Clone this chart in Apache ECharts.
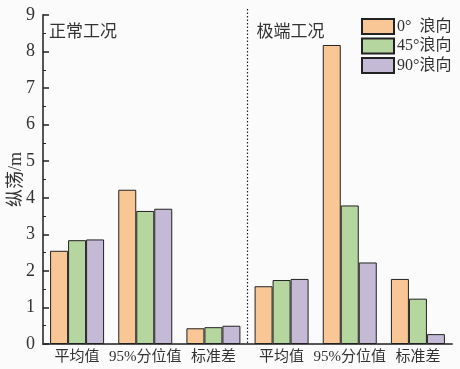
<!DOCTYPE html>
<html>
<head>
<meta charset="utf-8">
<script src="https://cdn.jsdelivr.net/npm/echarts@6/dist/echarts.min.js"></script>
<style>
  html, body { margin: 0; padding: 0; background: #fbfbfb; }
  #chart { width: 460px; height: 369px; }
</style>
</head>
<body>
<div id="chart"></div>
<script>
// Categories: first three under normal conditions, last three under extreme conditions
const categories = ['平均值', '95%分位值', '标准差', '平均值', '95%分位值', '标准差'];
const seriesNames = ['0°  浪向', '45°浪向', '90°浪向'];
const surge0 = [2.55, 4.22, 0.43, 1.58, 8.18, 1.78];
const surge45 = [2.84, 3.64, 0.46, 1.75, 3.79, 1.24];
const surge90 = [2.86, 3.70, 0.50, 1.78, 2.23, 0.27];
const yTicks = [0, 1, 2, 3, 4, 5, 6, 7, 8, 9];
const groupTitles = ['正常工况', '极端工况'];

const colors = ['#f8c795', '#b6d6a0', '#c5bad6'];
const FONT = '"Liberation Serif", "Noto Sans CJK SC", serif';

const chart = echarts.init(document.getElementById('chart'), null, { renderer: 'canvas' });

const mkSeries = (name, data, i) => ({
  name: name,
  type: 'bar',
  data: data,
  barWidth: 18,
  barGap: '0%',
  itemStyle: { color: colors[i], borderColor: '#222', borderWidth: 1 }
});

chart.setOption({
  backgroundColor: '#fbfbfb',
  animation: false,
  grid: { left: 43, right: 8, top: 15, bottom: 25, outerBoundsMode: 'none', containLabel: false },
  legend: {
    orient: 'vertical',
    left: 361,
    top: 18,
    padding: 0,
    itemWidth: 32,
    itemHeight: 15,
    itemGap: 2.5,
    icon: 'rect',
    textStyle: { fontFamily: FONT, fontSize: 16, color: '#333', lineHeight: 15, padding: [0, 0, 0, -2] },
    data: seriesNames
  },
  xAxis: {
    type: 'category',
    data: categories,
    axisLine: { lineStyle: { color: '#555', width: 2 } },
    axisTick: { show: true, inside: true, alignWithLabel: true, length: 6, lineStyle: { color: '#222', width: 1.5 } },
    axisLabel: { fontFamily: FONT, fontSize: 15, color: '#333', margin: 6, interval: 0 }
  },
  yAxis: {
    type: 'value',
    min: yTicks[0],
    max: yTicks[yTicks.length - 1],
    interval: 1,
    name: '纵荡/m',
    nameLocation: 'middle',
    nameGap: 18,
    nameMoveOverlap: false,
    nameTextStyle: { fontFamily: FONT, fontSize: 18, color: '#333' },
    axisLine: { show: true, lineStyle: { color: '#555', width: 2 } },
    axisTick: { show: true, inside: true, length: 6, lineStyle: { color: '#222', width: 1.5 } },
    minorTick: { show: true, splitNumber: 2, length: 3, lineStyle: { color: '#222', width: 1 } },
    splitLine: { show: false },
    axisLabel: { fontFamily: FONT, fontSize: 18, color: '#333', margin: 8 }
  },
  series: [
    mkSeries(seriesNames[0], surge0, 0),
    mkSeries(seriesNames[1], surge45, 1),
    mkSeries(seriesNames[2], surge90, 2)
  ]
});

// Divider between the two condition groups and group titles, placed via the axis scales
const xa = chart.convertToPixel({ xAxisIndex: 0 }, 2);
const xb = chart.convertToPixel({ xAxisIndex: 0 }, 3);
const xMid = (xa + xb) / 2;
const yBase = chart.convertToPixel({ yAxisIndex: 0 }, 0);
const yTop = chart.convertToPixel({ yAxisIndex: 0 }, 9);
const x0 = chart.convertToPixel({ xAxisIndex: 0 }, 0);
const half = (xb - xa) / 2;

chart.setOption({
  graphic: [
    {
      type: 'line',
      shape: { x1: xMid, y1: yTop - 6, x2: xMid, y2: yBase },
      style: { stroke: '#222', lineWidth: 1.2, lineDash: [1.5, 2] },
      z: 10
    },
    {
      type: 'text',
      left: x0 - half + 6,
      top: yTop + 7,
      style: { text: groupTitles[0], font: '17px "Noto Sans CJK SC", serif', fill: '#333' }
    },
    {
      type: 'text',
      left: xMid + 9,
      top: yTop + 7,
      style: { text: groupTitles[1], font: '17px "Noto Sans CJK SC", serif', fill: '#333' }
    }
  ]
});
</script>
</body>
</html>
